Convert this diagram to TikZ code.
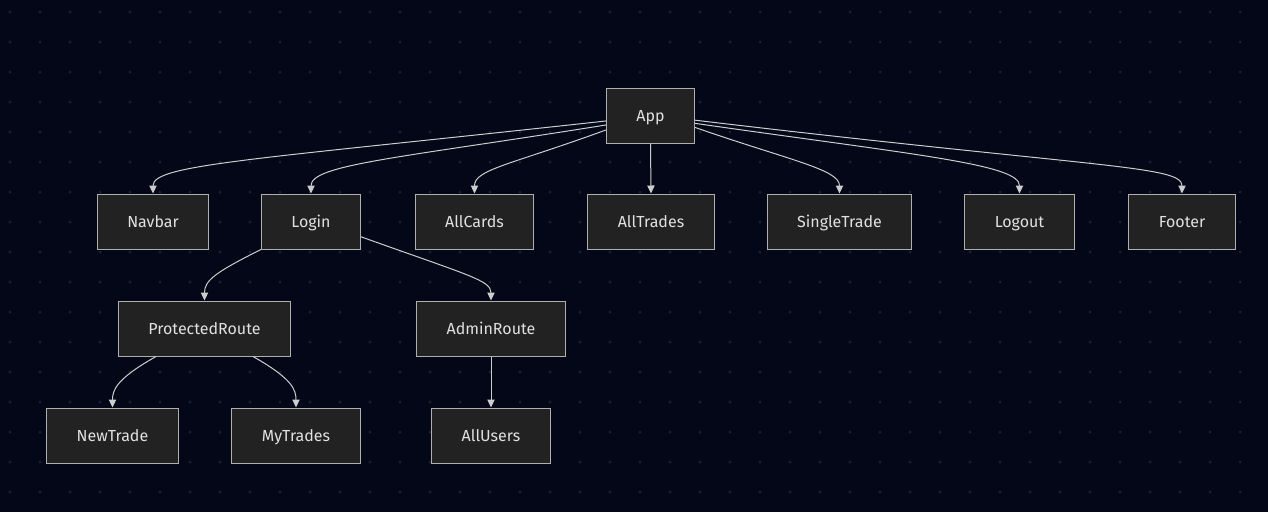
\documentclass[tikz,border=0pt]{standalone}
\usepackage{fontspec}
\setmainfont{Fira Sans}
\usetikzlibrary{arrows.meta}
\definecolor{bgdark}{RGB}{3,7,24}
\definecolor{griddot}{RGB}{30,34,48}
\definecolor{boxfill}{RGB}{34,34,34}
\definecolor{boxline}{RGB}{175,175,175}
\definecolor{boxtext}{RGB}{225,225,225}
\definecolor{edgeline}{RGB}{205,205,205}
\tikzset{every picture/.style={line width=0.75pt}}
\tikzset{
  comp/.style={draw=boxline, fill=boxfill, text=boxtext, font=\fontsize{12}{14}\selectfont,
    inner xsep=22.5pt, inner ysep=0pt, minimum height=41.25pt,
    text height=10.1pt, text depth=1.1pt},
  edge/.style={draw=edgeline, line width=0.75pt, -{Triangle[length=6pt,width=5.5pt]}}
}

\begin{document}
\begin{tikzpicture}[x=0.75pt,y=0.75pt,yscale=-1,xscale=1]
%set diagram size 1268 x 512
\useasboundingbox (0,0) rectangle (1268,512);
\fill[bgdark] (0,0) rectangle (1268,512);
%dotted grid
\foreach \gx in {10,40,...,1260}
  \foreach \gy in {12,42,...,500}
    \fill[griddot] (\gx,\gy) circle (1.5);

%Shape: components
\node[comp] (App) at (650.5,115.5) {App};
\node[comp] (Navbar) at (153,221.5) {Navbar};
\node[comp] (Login) at (311,221.5) {Login};
\node[comp] (AllCards) at (474.5,221.5) {AllCards};
\node[comp] (AllTrades) at (651,221.5) {AllTrades};
\node[comp] (SingleTrade) at (839.5,221.5) {SingleTrade};
\node[comp] (Logout) at (1019.5,221.5) {Logout};
\node[comp] (Footer) at (1182,221.5) {Footer};
\node[comp] (ProtectedRoute) at (204.5,328.5) {ProtectedRoute};
\node[comp] (AdminRoute) at (491,328.5) {AdminRoute};
\node[comp] (NewTrade) at (112.5,435.5) {NewTrade};
\node[comp] (MyTrades) at (296,435.5) {MyTrades};
\node[comp] (AllUsers) at (491,435.5) {AllUsers};

%Curve Lines: App children
\draw[edge] (App.187) .. controls +(-356,39) and +(0,-29) .. (Navbar.north);
\draw[edge] (App.192) .. controls +(-206,33) and +(0,-29) .. (Login.north);
\draw[edge] (App.198) .. controls +(-96,35) and +(0,-24) .. (AllCards.north);
\draw[edge] (App.south) -- (AllTrades.north);
\draw[edge] (App.345) .. controls +(95,33) and +(0,-24) .. (SingleTrade.north);
\draw[edge] (App.350) .. controls +(225,32) and +(0,-29) .. (Logout.north);
\draw[edge] (App.354) .. controls +(405,48) and +(0,-28) .. (Footer.north);
%Curve Lines: routes
\draw[edge] (Login.south west) .. controls +(-46,23) and +(0,-20) .. (ProtectedRoute.north);
\draw[edge] (Login.343) .. controls +(109,39) and +(0,-20) .. (AdminRoute.north);
\draw[edge] (ProtectedRoute.210) .. controls +(-39,22) and +(0,-18) .. (NewTrade.north);
\draw[edge] (ProtectedRoute.330) .. controls +(39,22) and +(0,-18) .. (MyTrades.north);
\draw[edge] (AdminRoute.south) -- (AllUsers.north);

\end{tikzpicture}
\end{document}
